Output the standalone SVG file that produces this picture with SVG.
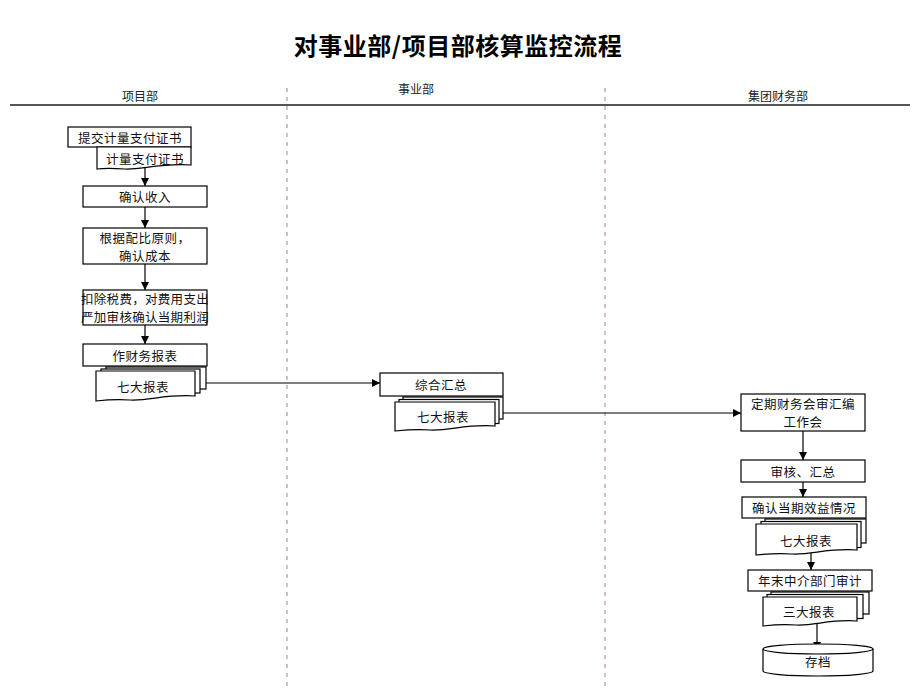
<svg xmlns="http://www.w3.org/2000/svg" width="920" height="690" viewBox="0 0 920 690">
<defs>
<style>
.t{font-family:"Noto Sans CJK SC","Liberation Sans",sans-serif;font-size:12.5px;letter-spacing:0.5px;fill:#111;text-anchor:middle;dominant-baseline:central}
.h{font-family:"Noto Sans CJK SC","Liberation Sans",sans-serif;font-size:12px;fill:#222;text-anchor:middle;dominant-baseline:central}
.title{font-family:"Noto Sans CJK SC","Liberation Sans",sans-serif;font-size:24px;font-weight:bold;fill:#000;text-anchor:middle;dominant-baseline:central}
.b{fill:#fff;stroke:#000;stroke-width:1.2}
.c{fill:none;stroke:#000;stroke-width:1.2}
.lane{stroke:#b890b8;stroke-width:1.2;stroke-dasharray:4 5}
</style>
<marker id="ah" viewBox="0 0 10 10" refX="10" refY="5" markerWidth="8" markerHeight="8" markerUnits="userSpaceOnUse" orient="auto">
<path d="M0,0 L10,5 L0,10 z" fill="#000"/>
</marker>
</defs>
<rect width="920" height="690" fill="#fff"/>
<text class="title" x="458" y="44" style="letter-spacing:0.5px">对事业部/项目部核算监控流程</text>
<g id="lanes">
<line x1="10" y1="105" x2="910" y2="105" stroke="#555" stroke-width="2"/>
<line class="lane" x1="287" y1="88" x2="287" y2="690"/>
<line class="lane" x1="605" y1="88" x2="605" y2="690"/>
<text class="h" x="140" y="95">项目部</text>
<text class="h" x="416" y="88">事业部</text>
<text class="h" x="778" y="95">集团财务部</text>
</g>
<g id="connectors">
<line class="c" x1="145" y1="167" x2="145" y2="186" marker-end="url(#ah)"/>
<line class="c" x1="145" y1="207" x2="145" y2="228" marker-end="url(#ah)"/>
<line class="c" x1="145" y1="264" x2="145" y2="290" marker-end="url(#ah)"/>
<line class="c" x1="145" y1="325" x2="145" y2="344" marker-end="url(#ah)"/>
<line class="c" x1="206" y1="383" x2="380" y2="383" marker-end="url(#ah)"/>
<line class="c" x1="503" y1="413" x2="741" y2="413" marker-end="url(#ah)"/>
<line class="c" x1="803" y1="431" x2="803" y2="460" marker-end="url(#ah)"/>
<line class="c" x1="803" y1="482" x2="803" y2="497" marker-end="url(#ah)"/>
<line class="c" x1="811" y1="553" x2="811" y2="570" marker-end="url(#ah)"/>
<line class="c" x1="817" y1="623" x2="817" y2="650" marker-end="url(#ah)"/>
</g>
<g id="n1">
<rect class="b" x="68" y="127" width="123" height="20"/>
<text class="t" x="130" y="137">提交计量支付证书</text>
</g>
<g id="n2">
<path class="b" d="M97,147 H191 V165 C160,163 140,170 125,169 C112,168 104,168 97,169 Z"/>
<text class="t" x="145" y="158">计量支付证书</text>
</g>
<g id="n3">
<rect class="b" x="83" y="186" width="124" height="21"/>
<text class="t" x="145" y="196.5">确认收入</text>
</g>
<g id="n4">
<rect class="b" x="83" y="228" width="124" height="36"/>
<text class="t" x="145" y="237">根据配比原则，</text>
<text class="t" x="145" y="255">确认成本</text>
</g>
<g id="n5">
<rect class="b" x="83" y="290" width="124" height="35"/>
<text class="t" x="145" y="298.5" style="letter-spacing:0.3px">扣除税费，对费用支出</text>
<text class="t" x="145" y="316.5" style="letter-spacing:0.3px">严加审核确认当期利润</text>
</g>
<g id="n6">
<rect class="b" x="83" y="344" width="124" height="22"/>
<text class="t" x="145" y="355">作财务报表</text>
</g>
<g id="n7">
<rect class="b" x="106" y="367" width="100" height="22"/>
<rect class="b" x="101" y="369" width="99" height="24"/>
<path class="b" d="M96,371 H195 V396 C165,394 150,401 130,400 C115,399 105,400 96,401 Z"/>
<text class="t" x="143" y="386">七大报表</text>
</g>
<g id="n8">
<rect class="b" x="380" y="373" width="123" height="23"/>
<text class="t" x="441" y="384">综合汇总</text>
</g>
<g id="n9">
<rect class="b" x="403" y="397" width="100" height="22"/>
<rect class="b" x="399" y="399.5" width="100" height="24"/>
<path class="b" d="M395,402 H495 V426 C465,424 450,431 430,430 C415,429 405,430 395,431 Z"/>
<text class="t" x="443" y="416">七大报表</text>
</g>
<g id="n10">
<rect class="b" x="741" y="394" width="124" height="37"/>
<text class="t" x="803" y="403.5">定期财务会审汇编</text>
<text class="t" x="803" y="421.5">工作会</text>
</g>
<g id="n11">
<rect class="b" x="741" y="460" width="124" height="22"/>
<text class="t" x="803" y="471">审核、汇总</text>
</g>
<g id="n12">
<rect class="b" x="742" y="497" width="124" height="21"/>
<text class="t" x="804" y="507.5">确认当期效益情况</text>
</g>
<g id="n13">
<rect class="b" x="765" y="519" width="101" height="24"/>
<rect class="b" x="761" y="521.5" width="100" height="26"/>
<path class="b" d="M756,524 H857 V550 C827,548 812,555 792,554 C776,553 766,554 756,555 Z"/>
<text class="t" x="806" y="540">七大报表</text>
</g>
<g id="n14">
<rect class="b" x="748" y="570" width="124" height="21"/>
<text class="t" x="810" y="580.5">年末中介部门审计</text>
</g>
<g id="n15">
<rect class="b" x="771" y="592" width="98" height="22"/>
<rect class="b" x="767" y="594.5" width="96" height="24"/>
<path class="b" d="M763,597 H857 V621 C829,619 815,626 796,625 C781,624 772,625 763,626 Z"/>
<text class="t" x="809" y="611">三大报表</text>
</g>
<g id="n16">
<path class="b" d="M763,649 V671 A55,5 0 0 0 873,671 V649"/>
<ellipse class="b" cx="818" cy="649" rx="55" ry="5"/>
<text class="t" x="818" y="661">存档</text>
</g>
</svg>
